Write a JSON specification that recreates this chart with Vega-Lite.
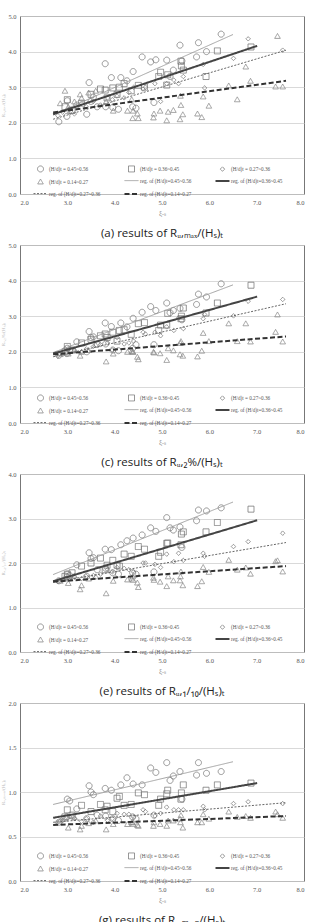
{
  "$schema": "https://vega.github.io/schema/vega-lite/v6.json",
  "background": "white",
  "padding": {"left": 0, "top": 12, "right": 10, "bottom": 0},
  "config": {
    "font": "Liberation Serif",
    "view": {"stroke": "#777", "strokeWidth": 1},
    "axis": {
      "labelFont": "Liberation Serif", "labelFontSize": 6.5, "labelColor": "#555",
      "ticks": false, "domain": false, "labelOverlap": false,
      "titleFont": "Liberation Serif", "titleFontWeight": "normal", "titleColor": "#888"
    },
    "axisX": {"grid": false, "labelPadding": 5, "titleFontSize": 7, "titlePadding": 3},
    "axisY": {"gridColor": "#cfcfcf", "gridWidth": 0.8, "labelPadding": 4, "titleFontSize": 5, "titlePadding": 2, "titleColor": "#bbb"},
    "legend": {
      "orient": "none", "legendX": 17, "legendY": 149, "direction": "horizontal",
      "columns": 3, "gridAlign": "all", "columnPadding": 19, "rowPadding": 3,
      "labelFont": "Liberation Serif", "labelFontSize": 5.2, "labelColor": "#555",
      "labelOffset": 5, "labelLimit": 0, "padding": 0
    },
    "title": {"orient": "bottom", "font": "Open Sans", "fontSize": 11.5, "fontWeight": "normal", "color": "#222", "offset": 12},
    "concat": {"spacing": 1}
  },
  "datasets": {
    "runs": [
      {"k": "(H/d)t = 0.45~0.56", "x": 2.82, "a": 2.03, "c": 1.90, "e": 1.60, "g": 0.66},
      {"k": "(H/d)t = 0.45~0.56", "x": 2.99, "a": 2.18, "c": 1.95, "e": 1.68, "g": 0.72},
      {"k": "(H/d)t = 0.45~0.56", "x": 3.00, "a": 2.62, "c": 2.10, "e": 1.75, "g": 0.92},
      {"k": "(H/d)t = 0.45~0.56", "x": 3.05, "a": 2.35, "c": 2.05, "e": 1.72, "g": 0.90},
      {"k": "(H/d)t = 0.45~0.56", "x": 3.20, "a": 2.50, "c": 2.28, "e": 1.96, "g": 0.81},
      {"k": "(H/d)t = 0.45~0.56", "x": 3.41, "a": 2.24, "c": 2.00, "e": 1.70, "g": 0.70},
      {"k": "(H/d)t = 0.45~0.56", "x": 3.46, "a": 3.13, "c": 2.57, "e": 2.23, "g": 1.07},
      {"k": "(H/d)t = 0.45~0.56", "x": 3.50, "a": 2.60, "c": 2.40, "e": 2.10, "g": 1.00},
      {"k": "(H/d)t = 0.45~0.56", "x": 3.55, "a": 2.72, "c": 2.42, "e": 2.12, "g": 0.97},
      {"k": "(H/d)t = 0.45~0.56", "x": 3.63, "a": 2.45, "c": 2.21, "e": 1.85, "g": 0.74},
      {"k": "(H/d)t = 0.45~0.56", "x": 3.80, "a": 3.66, "c": 2.81, "e": 2.31, "g": 1.04},
      {"k": "(H/d)t = 0.45~0.56", "x": 3.81, "a": 2.45, "c": 2.22, "e": 1.88, "g": 0.73},
      {"k": "(H/d)t = 0.45~0.56", "x": 3.93, "a": 3.27, "c": 2.71, "e": 2.30, "g": 1.02},
      {"k": "(H/d)t = 0.45~0.56", "x": 3.96, "a": 2.43, "c": 2.05, "e": 1.78, "g": 0.70},
      {"k": "(H/d)t = 0.45~0.56", "x": 4.08, "a": 2.38, "c": 2.03, "e": 1.75, "g": 0.68},
      {"k": "(H/d)t = 0.45~0.56", "x": 4.13, "a": 3.27, "c": 2.81, "e": 2.41, "g": 1.08},
      {"k": "(H/d)t = 0.45~0.56", "x": 4.26, "a": 3.18, "c": 2.70, "e": 2.50, "g": 1.16},
      {"k": "(H/d)t = 0.45~0.56", "x": 4.38, "a": 2.45, "c": 2.10, "e": 1.78, "g": 0.72},
      {"k": "(H/d)t = 0.45~0.56", "x": 4.39, "a": 3.44, "c": 2.94, "e": 2.56, "g": 1.09},
      {"k": "(H/d)t = 0.45~0.56", "x": 4.45, "a": 2.41, "c": 2.20, "e": 1.75, "g": 0.70},
      {"k": "(H/d)t = 0.45~0.56", "x": 4.58, "a": 3.85, "c": 3.11, "e": 2.63, "g": 1.08},
      {"k": "(H/d)t = 0.45~0.56", "x": 4.76, "a": 3.71, "c": 3.27, "e": 2.79, "g": 1.27},
      {"k": "(H/d)t = 0.45~0.56", "x": 4.83, "a": 2.57, "c": 2.20, "e": 1.80, "g": 0.74},
      {"k": "(H/d)t = 0.45~0.56", "x": 4.87, "a": 3.77, "c": 3.16, "e": 2.71, "g": 1.22},
      {"k": "(H/d)t = 0.45~0.56", "x": 5.10, "a": 3.76, "c": 3.37, "e": 3.02, "g": 1.33},
      {"k": "(H/d)t = 0.45~0.56", "x": 5.17, "a": 3.30, "c": 3.10, "e": 2.79, "g": 1.13},
      {"k": "(H/d)t = 0.45~0.56", "x": 5.24, "a": 3.48, "c": 3.16, "e": 2.74, "g": 1.18},
      {"k": "(H/d)t = 0.45~0.56", "x": 5.38, "a": 4.18, "c": 3.22, "e": 2.81, "g": 1.23},
      {"k": "(H/d)t = 0.45~0.56", "x": 5.42, "a": 3.74, "c": 2.90, "e": 2.35, "g": 0.92},
      {"k": "(H/d)t = 0.45~0.56", "x": 5.73, "a": 3.85, "c": 3.33, "e": 2.95, "g": 1.19},
      {"k": "(H/d)t = 0.45~0.56", "x": 5.77, "a": 4.25, "c": 3.62, "e": 3.19, "g": 1.33},
      {"k": "(H/d)t = 0.45~0.56", "x": 5.94, "a": 4.00, "c": 3.54, "e": 3.17, "g": 1.21},
      {"k": "(H/d)t = 0.45~0.56", "x": 6.25, "a": 4.49, "c": 3.91, "e": 3.24, "g": 1.23},

      {"k": "(H/d)t = 0.36~0.45", "x": 2.95, "a": 2.45, "c": 2.00, "e": 1.70, "g": 0.72},
      {"k": "(H/d)t = 0.36~0.45", "x": 3.00, "a": 2.65, "c": 2.15, "e": 1.75, "g": 0.80},
      {"k": "(H/d)t = 0.36~0.45", "x": 3.10, "a": 2.35, "c": 2.05, "e": 1.78, "g": 0.74},
      {"k": "(H/d)t = 0.36~0.45", "x": 3.30, "a": 2.55, "c": 2.25, "e": 1.93, "g": 0.85},
      {"k": "(H/d)t = 0.36~0.45", "x": 3.50, "a": 2.80, "c": 2.35, "e": 2.00, "g": 0.78},
      {"k": "(H/d)t = 0.36~0.45", "x": 3.70, "a": 2.95, "c": 2.45, "e": 2.11, "g": 0.86},
      {"k": "(H/d)t = 0.36~0.45", "x": 3.80, "a": 2.92, "c": 2.50, "e": 1.85, "g": 0.80},
      {"k": "(H/d)t = 0.36~0.45", "x": 3.84, "a": 2.70, "c": 2.40, "e": 1.95, "g": 0.84},
      {"k": "(H/d)t = 0.36~0.45", "x": 3.96, "a": 2.98, "c": 2.55, "e": 2.06, "g": 0.78},
      {"k": "(H/d)t = 0.36~0.45", "x": 4.05, "a": 2.80, "c": 2.30, "e": 1.95, "g": 0.93},
      {"k": "(H/d)t = 0.36~0.45", "x": 4.10, "a": 3.00, "c": 2.60, "e": 1.93, "g": 0.95},
      {"k": "(H/d)t = 0.36~0.45", "x": 4.20, "a": 3.10, "c": 2.62, "e": 2.20, "g": 0.85},
      {"k": "(H/d)t = 0.36~0.45", "x": 4.35, "a": 2.90, "c": 2.49, "e": 2.15, "g": 0.86},
      {"k": "(H/d)t = 0.36~0.45", "x": 4.50, "a": 3.05, "c": 2.79, "e": 2.37, "g": 0.99},
      {"k": "(H/d)t = 0.36~0.45", "x": 4.63, "a": 3.00, "c": 2.82, "e": 2.31, "g": 0.97},
      {"k": "(H/d)t = 0.36~0.45", "x": 4.93, "a": 3.30, "c": 2.60, "e": 2.15, "g": 0.85},
      {"k": "(H/d)t = 0.36~0.45", "x": 4.97, "a": 3.42, "c": 2.75, "e": 2.24, "g": 0.92},
      {"k": "(H/d)t = 0.36~0.45", "x": 5.10, "a": 3.06, "c": 2.75, "e": 2.44, "g": 0.98},
      {"k": "(H/d)t = 0.36~0.45", "x": 5.12, "a": 3.35, "c": 3.08, "e": 2.45, "g": 1.02},
      {"k": "(H/d)t = 0.36~0.45", "x": 5.40, "a": 3.73, "c": 2.93, "e": 2.41, "g": 0.92},
      {"k": "(H/d)t = 0.36~0.45", "x": 5.41, "a": 3.60, "c": 3.00, "e": 2.65, "g": 0.99},
      {"k": "(H/d)t = 0.36~0.45", "x": 5.45, "a": 3.48, "c": 3.23, "e": 2.70, "g": 1.08},
      {"k": "(H/d)t = 0.36~0.45", "x": 5.93, "a": 3.30, "c": 3.09, "e": 2.70, "g": 1.02},
      {"k": "(H/d)t = 0.36~0.45", "x": 6.17, "a": 4.02, "c": 3.37, "e": 2.91, "g": 1.08},
      {"k": "(H/d)t = 0.36~0.45", "x": 6.88, "a": 4.13, "c": 3.87, "e": 3.21, "g": 1.10},

      {"k": "(H/d)t = 0.27~0.36", "x": 2.80, "a": 2.20, "c": 1.88, "e": 1.58, "g": 0.66},
      {"k": "(H/d)t = 0.27~0.36", "x": 2.90, "a": 2.30, "c": 1.92, "e": 1.62, "g": 0.68},
      {"k": "(H/d)t = 0.27~0.36", "x": 3.05, "a": 2.38, "c": 1.98, "e": 1.65, "g": 0.72},
      {"k": "(H/d)t = 0.27~0.36", "x": 3.15, "a": 2.25, "c": 2.05, "e": 1.68, "g": 0.70},
      {"k": "(H/d)t = 0.27~0.36", "x": 3.30, "a": 2.55, "c": 2.00, "e": 1.65, "g": 0.67},
      {"k": "(H/d)t = 0.27~0.36", "x": 3.40, "a": 2.45, "c": 2.08, "e": 1.70, "g": 0.70},
      {"k": "(H/d)t = 0.27~0.36", "x": 3.55, "a": 2.60, "c": 2.15, "e": 1.72, "g": 0.66},
      {"k": "(H/d)t = 0.27~0.36", "x": 3.70, "a": 2.50, "c": 2.20, "e": 1.75, "g": 0.73},
      {"k": "(H/d)t = 0.27~0.36", "x": 3.85, "a": 2.70, "c": 2.25, "e": 1.85, "g": 0.68},
      {"k": "(H/d)t = 0.27~0.36", "x": 3.95, "a": 2.65, "c": 2.05, "e": 1.80, "g": 0.70},
      {"k": "(H/d)t = 0.27~0.36", "x": 4.05, "a": 2.75, "c": 2.40, "e": 1.90, "g": 0.76},
      {"k": "(H/d)t = 0.27~0.36", "x": 4.20, "a": 2.70, "c": 2.22, "e": 1.88, "g": 0.75},
      {"k": "(H/d)t = 0.27~0.36", "x": 4.30, "a": 2.85, "c": 2.25, "e": 1.85, "g": 0.75},
      {"k": "(H/d)t = 0.27~0.36", "x": 4.40, "a": 3.00, "c": 2.30, "e": 1.80, "g": 0.72},
      {"k": "(H/d)t = 0.27~0.36", "x": 4.60, "a": 2.95, "c": 2.55, "e": 2.00, "g": 0.80},
      {"k": "(H/d)t = 0.27~0.36", "x": 4.65, "a": 3.00, "c": 2.50, "e": 2.00, "g": 0.78},
      {"k": "(H/d)t = 0.27~0.36", "x": 4.85, "a": 3.10, "c": 2.55, "e": 1.97, "g": 0.73},
      {"k": "(H/d)t = 0.27~0.36", "x": 4.97, "a": 2.60, "c": 2.45, "e": 1.90, "g": 0.76},
      {"k": "(H/d)t = 0.27~0.36", "x": 5.10, "a": 3.10, "c": 2.70, "e": 2.20, "g": 0.83},
      {"k": "(H/d)t = 0.27~0.36", "x": 5.25, "a": 3.20, "c": 2.60, "e": 2.03, "g": 0.80},
      {"k": "(H/d)t = 0.27~0.36", "x": 5.35, "a": 3.10, "c": 2.95, "e": 2.22, "g": 0.80},
      {"k": "(H/d)t = 0.27~0.36", "x": 5.45, "a": 3.30, "c": 2.65, "e": 2.06, "g": 0.80},
      {"k": "(H/d)t = 0.27~0.36", "x": 5.87, "a": 3.64, "c": 2.93, "e": 2.22, "g": 0.84},
      {"k": "(H/d)t = 0.27~0.36", "x": 5.90, "a": 2.98, "c": 3.05, "e": 2.15, "g": 0.80},
      {"k": "(H/d)t = 0.27~0.36", "x": 6.51, "a": 3.81, "c": 3.01, "e": 2.37, "g": 0.87},
      {"k": "(H/d)t = 0.27~0.36", "x": 6.82, "a": 4.36, "c": 3.42, "e": 2.48, "g": 0.89},
      {"k": "(H/d)t = 0.27~0.36", "x": 7.55, "a": 4.04, "c": 3.47, "e": 2.67, "g": 0.87},

      {"k": "(H/d)t = 0.14~0.27", "x": 2.85, "a": 2.55, "c": 1.95, "e": 1.60, "g": 0.68},
      {"k": "(H/d)t = 0.14~0.27", "x": 2.95, "a": 2.90, "c": 2.10, "e": 1.65, "g": 0.70},
      {"k": "(H/d)t = 0.14~0.27", "x": 3.02, "a": 2.45, "c": 1.95, "e": 1.55, "g": 0.60},
      {"k": "(H/d)t = 0.14~0.27", "x": 3.15, "a": 2.60, "c": 2.05, "e": 1.72, "g": 0.72},
      {"k": "(H/d)t = 0.14~0.27", "x": 3.27, "a": 2.80, "c": 1.89, "e": 1.41, "g": 0.58},
      {"k": "(H/d)t = 0.14~0.27", "x": 3.30, "a": 2.70, "c": 2.00, "e": 1.50, "g": 0.62},
      {"k": "(H/d)t = 0.14~0.27", "x": 3.45, "a": 2.85, "c": 2.05, "e": 1.65, "g": 0.65},
      {"k": "(H/d)t = 0.14~0.27", "x": 3.60, "a": 2.90, "c": 2.20, "e": 1.70, "g": 0.68},
      {"k": "(H/d)t = 0.14~0.27", "x": 3.82, "a": 2.60, "c": 1.73, "e": 1.32, "g": 0.58},
      {"k": "(H/d)t = 0.14~0.27", "x": 3.97, "a": 2.34, "c": 1.95, "e": 1.60, "g": 0.64},
      {"k": "(H/d)t = 0.14~0.27", "x": 4.27, "a": 2.34, "c": 2.00, "e": 1.63, "g": 0.64},
      {"k": "(H/d)t = 0.14~0.27", "x": 4.36, "a": 2.66, "c": 2.02, "e": 1.65, "g": 0.66},
      {"k": "(H/d)t = 0.14~0.27", "x": 4.38, "a": 2.13, "c": 2.00, "e": 1.70, "g": 0.66},
      {"k": "(H/d)t = 0.14~0.27", "x": 4.39, "a": 2.34, "c": 2.00, "e": 1.62, "g": 0.64},
      {"k": "(H/d)t = 0.14~0.27", "x": 4.48, "a": 2.26, "c": 1.86, "e": 1.56, "g": 0.63},
      {"k": "(H/d)t = 0.14~0.27", "x": 4.50, "a": 2.13, "c": 1.79, "e": 1.46, "g": 0.62},
      {"k": "(H/d)t = 0.14~0.27", "x": 4.82, "a": 2.15, "c": 2.00, "e": 1.67, "g": 0.62},
      {"k": "(H/d)t = 0.14~0.27", "x": 4.83, "a": 2.26, "c": 1.98, "e": 1.62, "g": 0.66},
      {"k": "(H/d)t = 0.14~0.27", "x": 4.96, "a": 2.34, "c": 1.96, "e": 1.58, "g": 0.64},
      {"k": "(H/d)t = 0.14~0.27", "x": 5.10, "a": 2.07, "c": 1.77, "e": 1.48, "g": 0.62},
      {"k": "(H/d)t = 0.14~0.27", "x": 5.13, "a": 2.31, "c": 2.10, "e": 1.70, "g": 0.68},
      {"k": "(H/d)t = 0.14~0.27", "x": 5.24, "a": 2.36, "c": 2.04, "e": 1.61, "g": 0.68},
      {"k": "(H/d)t = 0.14~0.27", "x": 5.38, "a": 2.10, "c": 1.93, "e": 1.61, "g": 0.70},
      {"k": "(H/d)t = 0.14~0.27", "x": 5.39, "a": 2.76, "c": 2.25, "e": 1.70, "g": 0.66},
      {"k": "(H/d)t = 0.14~0.27", "x": 5.40, "a": 2.50, "c": 2.30, "e": 1.81, "g": 0.74},
      {"k": "(H/d)t = 0.14~0.27", "x": 5.44, "a": 2.24, "c": 1.89, "e": 1.50, "g": 0.60},
      {"k": "(H/d)t = 0.14~0.27", "x": 5.75, "a": 2.26, "c": 1.87, "e": 1.48, "g": 0.66},
      {"k": "(H/d)t = 0.14~0.27", "x": 5.84, "a": 2.16, "c": 2.03, "e": 1.59, "g": 0.66},
      {"k": "(H/d)t = 0.14~0.27", "x": 5.87, "a": 2.74, "c": 2.53, "e": 1.91, "g": 0.75},
      {"k": "(H/d)t = 0.14~0.27", "x": 5.99, "a": 2.48, "c": 2.30, "e": 1.80, "g": 0.70},
      {"k": "(H/d)t = 0.14~0.27", "x": 6.41, "a": 3.05, "c": 2.80, "e": 2.07, "g": 0.78},
      {"k": "(H/d)t = 0.14~0.27", "x": 6.59, "a": 2.66, "c": 2.30, "e": 1.85, "g": 0.72},
      {"k": "(H/d)t = 0.14~0.27", "x": 6.77, "a": 3.58, "c": 2.80, "e": 1.90, "g": 0.73},
      {"k": "(H/d)t = 0.14~0.27", "x": 6.87, "a": 3.18, "c": 2.29, "e": 1.76, "g": 0.71},
      {"k": "(H/d)t = 0.14~0.27", "x": 7.40, "a": 3.02, "c": 2.56, "e": 2.04, "g": 0.78},
      {"k": "(H/d)t = 0.14~0.27", "x": 7.44, "a": 4.44, "c": 3.05, "e": 2.06, "g": 0.75},
      {"k": "(H/d)t = 0.14~0.27", "x": 7.55, "a": 3.02, "c": 2.29, "e": 1.81, "g": 0.71}
    ],
    "reg": [
      {"k": "reg. of (H/d)t=0.45~0.56", "x": 2.70, "a": 2.22, "c": 1.98, "e": 1.74, "g": 0.86},
      {"k": "reg. of (H/d)t=0.45~0.56", "x": 6.50, "a": 4.48, "c": 3.88, "e": 3.37, "g": 1.34},
      {"k": "reg. of (H/d)t=0.36~0.45", "x": 2.70, "a": 2.24, "c": 1.95, "e": 1.59, "g": 0.71},
      {"k": "reg. of (H/d)t=0.36~0.45", "x": 7.01, "a": 4.16, "c": 3.55, "e": 2.96, "g": 1.10},
      {"k": "reg. of (H/d)t=0.27~0.36", "x": 2.70, "a": 2.10, "c": 1.86, "e": 1.57, "g": 0.66},
      {"k": "reg. of (H/d)t=0.27~0.36", "x": 7.62, "a": 4.04, "c": 3.35, "e": 2.46, "g": 0.88},
      {"k": "reg. of (H/d)t=0.14~0.27", "x": 2.70, "a": 2.29, "c": 1.93, "e": 1.58, "g": 0.63},
      {"k": "reg. of (H/d)t=0.14~0.27", "x": 7.62, "a": 3.18, "c": 2.43, "e": 1.93, "g": 0.73}
    ]
  },
  "resolve": {
    "scale": {"shape": "independent", "size": "independent", "stroke": "independent", "strokeWidth": "independent", "strokeDash": "independent"},
    "legend": {"shape": "independent", "size": "independent", "stroke": "independent", "strokeWidth": "independent", "strokeDash": "independent"}
  },
  "vconcat": [
    {
      "width": 284, "height": 178,
      "title": "(a) results of Rᵤ,ₘₐₓ/(Hₛ)ₜ",
      "encoding": {
        "x": {"field": "x", "type": "quantitative", "scale": {"domain": [2, 8]}, "axis": {"values": [2, 3, 4, 5, 6, 7, 8], "format": ".1f", "title": "ξₒₛ"}},
        "y": {"field": "a", "type": "quantitative", "scale": {"domain": [0, 5]}, "axis": {"values": [0, 1, 2, 3, 4, 5], "format": ".1f", "title": "Rᵤ,ₘₐₓ/(Hₛ)ₜ"}},
        "stroke": {"field": "k", "type": "nominal", "title": null, "scale": {"domain": ["(H/d)t = 0.45~0.56", "(H/d)t = 0.36~0.45", "(H/d)t = 0.27~0.36", "(H/d)t = 0.14~0.27", "reg. of (H/d)t=0.45~0.56", "reg. of (H/d)t=0.36~0.45", "reg. of (H/d)t=0.27~0.36", "reg. of (H/d)t=0.14~0.27"], "range": ["#777", "#777", "#777", "#888", "#999", "#444", "#666", "#333"]}},
        "strokeWidth": {"field": "k", "type": "nominal", "title": null, "scale": {"type": "ordinal", "domain": ["(H/d)t = 0.45~0.56", "(H/d)t = 0.36~0.45", "(H/d)t = 0.27~0.36", "(H/d)t = 0.14~0.27", "reg. of (H/d)t=0.45~0.56", "reg. of (H/d)t=0.36~0.45", "reg. of (H/d)t=0.27~0.36", "reg. of (H/d)t=0.14~0.27"], "range": [0.8, 0.8, 0.8, 0.8, 0.9, 2, 1, 2]}},
        "strokeDash": {"field": "k", "type": "nominal", "title": null, "scale": {"domain": ["(H/d)t = 0.45~0.56", "(H/d)t = 0.36~0.45", "(H/d)t = 0.27~0.36", "(H/d)t = 0.14~0.27", "reg. of (H/d)t=0.45~0.56", "reg. of (H/d)t=0.36~0.45", "reg. of (H/d)t=0.27~0.36", "reg. of (H/d)t=0.14~0.27"], "range": [[1, 0], [1, 0], [1, 0], [1, 0], [1, 0], [1, 0], [2, 1.5], [5, 2.5]]}}
      },
      "layer": [
        {
          "data": {"name": "runs"},
          "mark": {"type": "point", "filled": false, "opacity": 1},
          "encoding": {
            "shape": {"field": "k", "type": "nominal", "title": null, "scale": {"domain": ["(H/d)t = 0.45~0.56", "(H/d)t = 0.36~0.45", "(H/d)t = 0.27~0.36", "(H/d)t = 0.14~0.27", "reg. of (H/d)t=0.45~0.56", "reg. of (H/d)t=0.36~0.45", "reg. of (H/d)t=0.27~0.36", "reg. of (H/d)t=0.14~0.27"], "range": ["circle", "square", "diamond", "triangle-up", "M-4,0H4", "M-4,0H4", "M-4,0H4", "M-4,0H4"]}},
            "size": {"field": "k", "type": "nominal", "title": null, "scale": {"type": "ordinal", "domain": ["(H/d)t = 0.45~0.56", "(H/d)t = 0.36~0.45", "(H/d)t = 0.27~0.36", "(H/d)t = 0.14~0.27", "reg. of (H/d)t=0.45~0.56", "reg. of (H/d)t=0.36~0.45", "reg. of (H/d)t=0.27~0.36", "reg. of (H/d)t=0.14~0.27"], "range": [36, 36, 20, 32, 12.25, 12.25, 12.25, 12.25]}}
          }
        },
        {"data": {"name": "reg"}, "mark": {"type": "line"}}
      ]
    },
    {
      "width": 284, "height": 178,
      "title": "(c) results of Rᵤ,₂%/(Hₛ)ₜ",
      "encoding": {
        "x": {"field": "x", "type": "quantitative", "scale": {"domain": [2, 8]}, "axis": {"values": [2, 3, 4, 5, 6, 7, 8], "format": ".1f", "title": "ξₒₛ"}},
        "y": {"field": "c", "type": "quantitative", "scale": {"domain": [0, 5]}, "axis": {"values": [0, 1, 2, 3, 4, 5], "format": ".1f", "title": "Rᵤ,₂%/(Hₛ)ₜ"}},
        "stroke": {"field": "k", "type": "nominal", "title": null, "scale": {"domain": ["(H/d)t = 0.45~0.56", "(H/d)t = 0.36~0.45", "(H/d)t = 0.27~0.36", "(H/d)t = 0.14~0.27", "reg. of (H/d)t=0.45~0.56", "reg. of (H/d)t=0.36~0.45", "reg. of (H/d)t=0.27~0.36", "reg. of (H/d)t=0.14~0.27"], "range": ["#777", "#777", "#777", "#888", "#999", "#444", "#666", "#333"]}},
        "strokeWidth": {"field": "k", "type": "nominal", "title": null, "scale": {"type": "ordinal", "domain": ["(H/d)t = 0.45~0.56", "(H/d)t = 0.36~0.45", "(H/d)t = 0.27~0.36", "(H/d)t = 0.14~0.27", "reg. of (H/d)t=0.45~0.56", "reg. of (H/d)t=0.36~0.45", "reg. of (H/d)t=0.27~0.36", "reg. of (H/d)t=0.14~0.27"], "range": [0.8, 0.8, 0.8, 0.8, 0.9, 2, 1, 2]}},
        "strokeDash": {"field": "k", "type": "nominal", "title": null, "scale": {"domain": ["(H/d)t = 0.45~0.56", "(H/d)t = 0.36~0.45", "(H/d)t = 0.27~0.36", "(H/d)t = 0.14~0.27", "reg. of (H/d)t=0.45~0.56", "reg. of (H/d)t=0.36~0.45", "reg. of (H/d)t=0.27~0.36", "reg. of (H/d)t=0.14~0.27"], "range": [[1, 0], [1, 0], [1, 0], [1, 0], [1, 0], [1, 0], [2, 1.5], [5, 2.5]]}}
      },
      "layer": [
        {
          "data": {"name": "runs"},
          "mark": {"type": "point", "filled": false, "opacity": 1},
          "encoding": {
            "shape": {"field": "k", "type": "nominal", "title": null, "scale": {"domain": ["(H/d)t = 0.45~0.56", "(H/d)t = 0.36~0.45", "(H/d)t = 0.27~0.36", "(H/d)t = 0.14~0.27", "reg. of (H/d)t=0.45~0.56", "reg. of (H/d)t=0.36~0.45", "reg. of (H/d)t=0.27~0.36", "reg. of (H/d)t=0.14~0.27"], "range": ["circle", "square", "diamond", "triangle-up", "M-4,0H4", "M-4,0H4", "M-4,0H4", "M-4,0H4"]}},
            "size": {"field": "k", "type": "nominal", "title": null, "scale": {"type": "ordinal", "domain": ["(H/d)t = 0.45~0.56", "(H/d)t = 0.36~0.45", "(H/d)t = 0.27~0.36", "(H/d)t = 0.14~0.27", "reg. of (H/d)t=0.45~0.56", "reg. of (H/d)t=0.36~0.45", "reg. of (H/d)t=0.27~0.36", "reg. of (H/d)t=0.14~0.27"], "range": [36, 36, 20, 32, 12.25, 12.25, 12.25, 12.25]}}
          }
        },
        {"data": {"name": "reg"}, "mark": {"type": "line"}}
      ]
    },
    {
      "width": 284, "height": 178,
      "title": "(e) results of Rᵤ,₁/₁₀/(Hₛ)ₜ",
      "encoding": {
        "x": {"field": "x", "type": "quantitative", "scale": {"domain": [2, 8]}, "axis": {"values": [2, 3, 4, 5, 6, 7, 8], "format": ".1f", "title": "ξₒₛ"}},
        "y": {"field": "e", "type": "quantitative", "scale": {"domain": [0, 4]}, "axis": {"values": [0, 1, 2, 3, 4], "format": ".1f", "title": "Rᵤ,₁/₁₀/(Hₛ)ₜ"}},
        "stroke": {"field": "k", "type": "nominal", "title": null, "scale": {"domain": ["(H/d)t = 0.45~0.56", "(H/d)t = 0.36~0.45", "(H/d)t = 0.27~0.36", "(H/d)t = 0.14~0.27", "reg. of (H/d)t=0.45~0.56", "reg. of (H/d)t=0.36~0.45", "reg. of (H/d)t=0.27~0.36", "reg. of (H/d)t=0.14~0.27"], "range": ["#777", "#777", "#777", "#888", "#999", "#444", "#666", "#333"]}},
        "strokeWidth": {"field": "k", "type": "nominal", "title": null, "scale": {"type": "ordinal", "domain": ["(H/d)t = 0.45~0.56", "(H/d)t = 0.36~0.45", "(H/d)t = 0.27~0.36", "(H/d)t = 0.14~0.27", "reg. of (H/d)t=0.45~0.56", "reg. of (H/d)t=0.36~0.45", "reg. of (H/d)t=0.27~0.36", "reg. of (H/d)t=0.14~0.27"], "range": [0.8, 0.8, 0.8, 0.8, 0.9, 2, 1, 2]}},
        "strokeDash": {"field": "k", "type": "nominal", "title": null, "scale": {"domain": ["(H/d)t = 0.45~0.56", "(H/d)t = 0.36~0.45", "(H/d)t = 0.27~0.36", "(H/d)t = 0.14~0.27", "reg. of (H/d)t=0.45~0.56", "reg. of (H/d)t=0.36~0.45", "reg. of (H/d)t=0.27~0.36", "reg. of (H/d)t=0.14~0.27"], "range": [[1, 0], [1, 0], [1, 0], [1, 0], [1, 0], [1, 0], [2, 1.5], [5, 2.5]]}}
      },
      "layer": [
        {
          "data": {"name": "runs"},
          "mark": {"type": "point", "filled": false, "opacity": 1},
          "encoding": {
            "shape": {"field": "k", "type": "nominal", "title": null, "scale": {"domain": ["(H/d)t = 0.45~0.56", "(H/d)t = 0.36~0.45", "(H/d)t = 0.27~0.36", "(H/d)t = 0.14~0.27", "reg. of (H/d)t=0.45~0.56", "reg. of (H/d)t=0.36~0.45", "reg. of (H/d)t=0.27~0.36", "reg. of (H/d)t=0.14~0.27"], "range": ["circle", "square", "diamond", "triangle-up", "M-4,0H4", "M-4,0H4", "M-4,0H4", "M-4,0H4"]}},
            "size": {"field": "k", "type": "nominal", "title": null, "scale": {"type": "ordinal", "domain": ["(H/d)t = 0.45~0.56", "(H/d)t = 0.36~0.45", "(H/d)t = 0.27~0.36", "(H/d)t = 0.14~0.27", "reg. of (H/d)t=0.45~0.56", "reg. of (H/d)t=0.36~0.45", "reg. of (H/d)t=0.27~0.36", "reg. of (H/d)t=0.14~0.27"], "range": [36, 36, 20, 32, 12.25, 12.25, 12.25, 12.25]}}
          }
        },
        {"data": {"name": "reg"}, "mark": {"type": "line"}}
      ]
    },
    {
      "width": 284, "height": 178,
      "title": "(g) results of Rᵤ,ₘₑₐₙ/(Hₛ)ₜ",
      "encoding": {
        "x": {"field": "x", "type": "quantitative", "scale": {"domain": [2, 8]}, "axis": {"values": [2, 3, 4, 5, 6, 7, 8], "format": ".1f", "title": "ξₒₛ"}},
        "y": {"field": "g", "type": "quantitative", "scale": {"domain": [0, 2]}, "axis": {"values": [0, 0.5, 1, 1.5, 2], "format": ".1f", "title": "Rᵤ,ₘₑₐₙ/(Hₛ)ₜ"}},
        "stroke": {"field": "k", "type": "nominal", "title": null, "scale": {"domain": ["(H/d)t = 0.45~0.56", "(H/d)t = 0.36~0.45", "(H/d)t = 0.27~0.36", "(H/d)t = 0.14~0.27", "reg. of (H/d)t=0.45~0.56", "reg. of (H/d)t=0.36~0.45", "reg. of (H/d)t=0.27~0.36", "reg. of (H/d)t=0.14~0.27"], "range": ["#777", "#777", "#777", "#888", "#999", "#444", "#666", "#333"]}},
        "strokeWidth": {"field": "k", "type": "nominal", "title": null, "scale": {"type": "ordinal", "domain": ["(H/d)t = 0.45~0.56", "(H/d)t = 0.36~0.45", "(H/d)t = 0.27~0.36", "(H/d)t = 0.14~0.27", "reg. of (H/d)t=0.45~0.56", "reg. of (H/d)t=0.36~0.45", "reg. of (H/d)t=0.27~0.36", "reg. of (H/d)t=0.14~0.27"], "range": [0.8, 0.8, 0.8, 0.8, 0.9, 2, 1, 2]}},
        "strokeDash": {"field": "k", "type": "nominal", "title": null, "scale": {"domain": ["(H/d)t = 0.45~0.56", "(H/d)t = 0.36~0.45", "(H/d)t = 0.27~0.36", "(H/d)t = 0.14~0.27", "reg. of (H/d)t=0.45~0.56", "reg. of (H/d)t=0.36~0.45", "reg. of (H/d)t=0.27~0.36", "reg. of (H/d)t=0.14~0.27"], "range": [[1, 0], [1, 0], [1, 0], [1, 0], [1, 0], [1, 0], [2, 1.5], [5, 2.5]]}}
      },
      "layer": [
        {
          "data": {"name": "runs"},
          "mark": {"type": "point", "filled": false, "opacity": 1},
          "encoding": {
            "shape": {"field": "k", "type": "nominal", "title": null, "scale": {"domain": ["(H/d)t = 0.45~0.56", "(H/d)t = 0.36~0.45", "(H/d)t = 0.27~0.36", "(H/d)t = 0.14~0.27", "reg. of (H/d)t=0.45~0.56", "reg. of (H/d)t=0.36~0.45", "reg. of (H/d)t=0.27~0.36", "reg. of (H/d)t=0.14~0.27"], "range": ["circle", "square", "diamond", "triangle-up", "M-4,0H4", "M-4,0H4", "M-4,0H4", "M-4,0H4"]}},
            "size": {"field": "k", "type": "nominal", "title": null, "scale": {"type": "ordinal", "domain": ["(H/d)t = 0.45~0.56", "(H/d)t = 0.36~0.45", "(H/d)t = 0.27~0.36", "(H/d)t = 0.14~0.27", "reg. of (H/d)t=0.45~0.56", "reg. of (H/d)t=0.36~0.45", "reg. of (H/d)t=0.27~0.36", "reg. of (H/d)t=0.14~0.27"], "range": [36, 36, 20, 32, 12.25, 12.25, 12.25, 12.25]}}
          }
        },
        {"data": {"name": "reg"}, "mark": {"type": "line"}}
      ]
    }
  ]
}
